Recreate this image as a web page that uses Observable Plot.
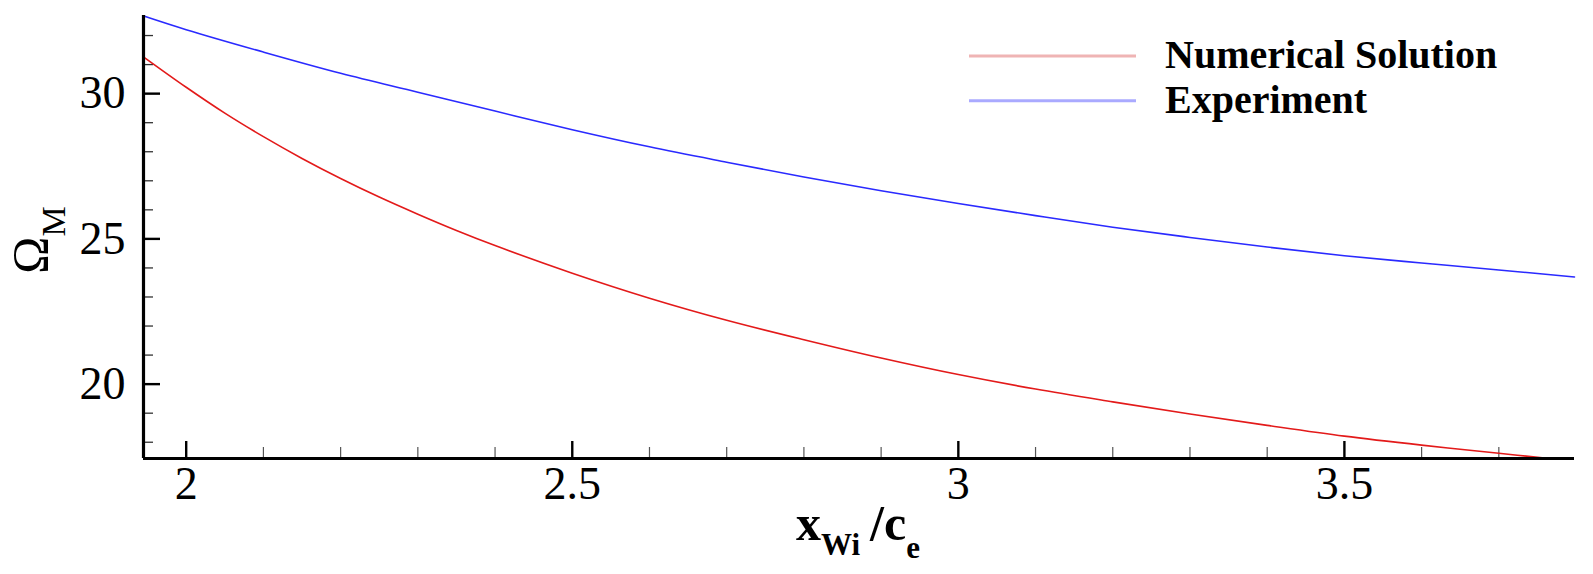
<!DOCTYPE html>
<html>
<head>
<meta charset="utf-8">
<script src="https://cdn.jsdelivr.net/npm/d3@7"></script>
<script src="https://cdn.jsdelivr.net/npm/@observablehq/plot@0.6"></script>
<style>
  html, body { margin: 0; padding: 0; background: #fff; }
  svg { display: block; }
</style>
</head>
<body>
<div id="chart"></div>
<script>
// ---- data ----
const seriesNames = ["Numerical Solution", "Experiment"];

const xNumerical = [1.945, 2.0, 2.05, 2.1, 2.15, 2.2, 2.25, 2.3, 2.35, 2.4, 2.5, 2.6, 2.7, 2.8, 2.9, 3.0, 3.1, 3.2, 3.3, 3.4, 3.5, 3.6, 3.7, 3.765];
const yNumerical = [31.26, 30.22, 29.33, 28.52, 27.77, 27.08, 26.44, 25.85, 25.29, 24.77, 23.82, 22.96, 22.2, 21.53, 20.9, 20.33, 19.83, 19.39, 18.97, 18.58, 18.21, 17.9, 17.62, 17.44];

const xExperiment = [1.945, 2.0, 2.1, 2.2, 2.3, 2.4, 2.5, 2.6, 2.7, 2.8, 2.9, 3.0, 3.1, 3.2, 3.3, 3.4, 3.5, 3.6, 3.7, 3.798];
const yExperiment = [32.67, 32.2, 31.43, 30.7, 30.05, 29.4, 28.76, 28.17, 27.64, 27.13, 26.66, 26.22, 25.8, 25.4, 25.05, 24.72, 24.42, 24.17, 23.93, 23.69];

const xMajorTicks = [2, 2.5, 3, 3.5];
const xMinorTicks = [2.1, 2.2, 2.3, 2.4, 2.6, 2.7, 2.8, 2.9, 3.1, 3.2, 3.3, 3.4, 3.6, 3.7];
const yMajorTicks = [20, 25, 30];
const yMinorTicks = [18, 19, 21, 22, 23, 24, 26, 27, 28, 29, 31, 32];

const xDomain = [1.9447, 3.798];
const yDomain = [17.44, 32.69];

// ---- layout / style ----
const W = 1593, H = 574;
const mL = 143, mR = 19, mT = 15, mB = 116;
const innerW = W - mL - mR, innerH = H - mT - mB;
const serif = "'Liberation Serif', 'Times New Roman', serif";
const lineColors = ["#e31a1a", "#2a2aff"];
const legendColors = ["#efb4b4", "#aaaaff"];

const numData = xNumerical.map((x, i) => ({x, y: yNumerical[i], s: seriesNames[0]}));
const expData = xExperiment.map((x, i) => ({x, y: yExperiment[i], s: seriesNames[1]}));

const svg = Plot.plot({
  width: W, height: H,
  marginLeft: mL, marginRight: mR, marginTop: mT, marginBottom: mB,
  style: {fontFamily: serif, background: "#fff", color: "#000", overflow: "visible"},
  x: {domain: xDomain},
  y: {domain: yDomain},
  marks: [
    Plot.tickY(yMinorTicks, {y: d => d, insetRight: innerW - 10, stroke: "#333", strokeWidth: 1.3}),
    Plot.tickY(yMajorTicks, {y: d => d, insetRight: innerW - 17, stroke: "#000", strokeWidth: 2.4}),
    Plot.tickX(xMinorTicks, {x: d => d, insetTop: innerH - 11, stroke: "#555", strokeWidth: 1.2}),
    Plot.tickX(xMajorTicks, {x: d => d, insetTop: innerH - 17, stroke: "#000", strokeWidth: 2.4}),
    Plot.axisY({ticks: yMajorTicks, tickSize: 0, tickPadding: 18, fontSize: 46, label: null, tickFormat: d => String(d)}),
    Plot.axisX({ticks: xMajorTicks, tickSize: 0, tickPadding: 8, fontSize: 46, label: null, tickFormat: d => String(d)}),
    Plot.line(numData, {x: "x", y: "y", stroke: lineColors[0], strokeWidth: 1.6, curve: "catmull-rom"}),
    Plot.line(expData, {x: "x", y: "y", stroke: lineColors[1], strokeWidth: 1.6, curve: "catmull-rom"}),
    Plot.ruleX([xDomain[0]], {stroke: "#000", strokeWidth: 3.2}),
    Plot.ruleY([yDomain[0]], {stroke: "#000", strokeWidth: 3.2})
  ]
});

document.getElementById("chart").appendChild(svg);

const s = d3.select(svg);

// y-axis title: Ω_M
const yl = s.append("text")
  .attr("transform", "translate(47,240) rotate(-90)")
  .attr("text-anchor", "middle")
  .style("font-family", serif)
  .style("font-size", "50px")
  .attr("fill", "#000");
yl.append("tspan").text("Ω");
yl.append("tspan").attr("dy", 18).style("font-size", "34px").text("M");

// x-axis title: x_Wi / c_e
const xl = s.append("text")
  .attr("x", 858).attr("y", 540)
  .attr("text-anchor", "middle")
  .style("font-family", serif)
  .style("font-weight", "bold")
  .style("font-size", "50px")
  .attr("fill", "#000");
xl.append("tspan").text("x");
xl.append("tspan").attr("dy", 15).style("font-size", "31px").text("Wi");
xl.append("tspan").attr("dy", -15).text("\u2009/c");
xl.append("tspan").attr("dy", 18).style("font-size", "31px").text("e");

// legend
const legendRows = [
  {name: seriesNames[0], color: legendColors[0], y: 56},
  {name: seriesNames[1], color: legendColors[1], y: 100.7}
];
legendRows.forEach(r => {
  s.append("line")
    .attr("x1", 969).attr("x2", 1136)
    .attr("y1", r.y).attr("y2", r.y)
    .attr("stroke", r.color).attr("stroke-width", 3);
  s.append("text")
    .attr("x", 1165).attr("y", r.y + 12)
    .attr("text-anchor", "start")
    .style("font-family", serif)
    .style("font-weight", "bold")
    .style("font-size", "40px")
    .attr("fill", "#000")
    .text(r.name);
});
</script>
</body>
</html>
